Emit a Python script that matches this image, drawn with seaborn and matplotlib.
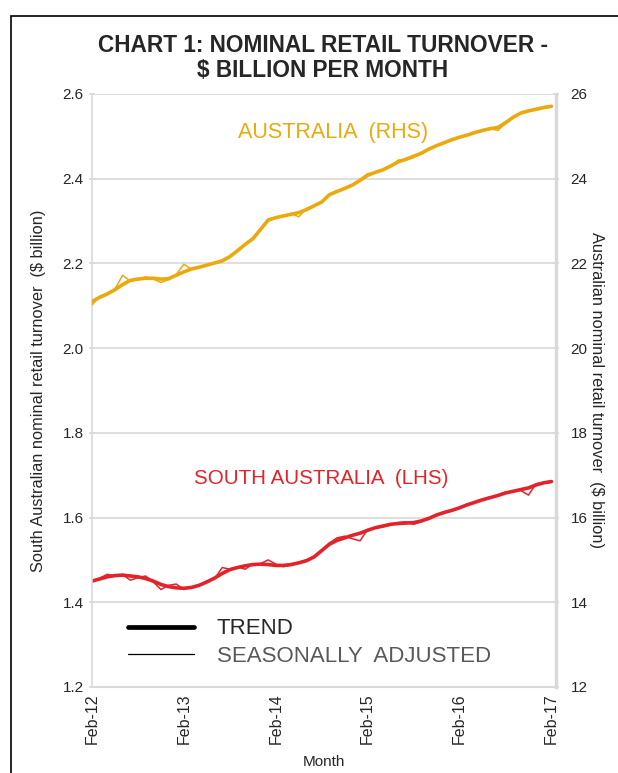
import matplotlib
matplotlib.use('Agg')
import matplotlib.pyplot as plt
import matplotlib.patches as mpatches
from matplotlib.lines import Line2D
import seaborn as sns
import pandas as pd

# Данные, индекс 0 = Feb-12, 60 = Feb-17
months = list(range(61))
tick_pos = [0, 12, 24, 36, 48, 60]
tick_labels = ['Feb-12', 'Feb-13', 'Feb-14', 'Feb-15', 'Feb-16', 'Feb-17']

aus_trend = [21.10, 21.20, 21.28, 21.38, 21.50, 21.60, 21.63, 21.65, 21.65, 21.63,
             21.64, 21.72, 21.80, 21.87, 21.91, 21.96, 22.01, 22.06, 22.16, 22.30,
             22.45, 22.58, 22.80, 23.02, 23.08, 23.12, 23.16, 23.20, 23.27, 23.36,
             23.45, 23.62, 23.70, 23.77, 23.85, 23.96, 24.08, 24.15, 24.21, 24.30,
             24.40, 24.46, 24.53, 24.60, 24.70, 24.78, 24.85, 24.92, 24.98, 25.03,
             25.09, 25.14, 25.18, 25.21, 25.32, 25.45, 25.55, 25.60, 25.64, 25.68,
             25.71]
aus_sa = [21.02, 21.22, 21.30, 21.40, 21.72, 21.58, 21.62, 21.68, 21.63, 21.55,
          21.62, 21.74, 21.98, 21.86, 21.92, 21.97, 22.00, 22.08, 22.17, 22.32,
          22.44, 22.60, 22.82, 23.05, 23.08, 23.13, 23.18, 23.10, 23.30, 23.36,
          23.46, 23.64, 23.68, 23.78, 23.83, 23.98, 24.12, 24.14, 24.22, 24.28,
          24.44, 24.44, 24.50, 24.62, 24.70, 24.79, 24.84, 24.93, 24.97, 25.04,
          25.08, 25.15, 25.18, 25.14, 25.30, 25.46, 25.55, 25.62, 25.64, 25.70,
          25.72]

sa_trend = [1.450, 1.455, 1.460, 1.463, 1.464, 1.462, 1.460, 1.456, 1.450, 1.442,
            1.437, 1.434, 1.433, 1.435, 1.440, 1.448, 1.457, 1.468, 1.477, 1.482,
            1.486, 1.489, 1.490, 1.489, 1.487, 1.487, 1.489, 1.493, 1.498, 1.507,
            1.522, 1.537, 1.546, 1.552, 1.558, 1.563, 1.570, 1.576, 1.580, 1.584,
            1.586, 1.587, 1.588, 1.592, 1.598, 1.606, 1.612, 1.617, 1.623, 1.630,
            1.636, 1.642, 1.647, 1.652, 1.658, 1.662, 1.666, 1.670, 1.677, 1.682,
            1.685]
sa_sa = [1.448, 1.457, 1.466, 1.462, 1.466, 1.452, 1.458, 1.462, 1.448, 1.430,
         1.440, 1.443, 1.430, 1.436, 1.441, 1.450, 1.455, 1.482, 1.478, 1.484,
         1.478, 1.490, 1.491, 1.500, 1.490, 1.484, 1.488, 1.494, 1.500, 1.508,
         1.520, 1.540, 1.552, 1.556, 1.550, 1.545, 1.572, 1.575, 1.578, 1.583,
         1.588, 1.590, 1.584, 1.590, 1.598, 1.605, 1.613, 1.616, 1.622, 1.632,
         1.635, 1.643, 1.646, 1.653, 1.660, 1.662, 1.664, 1.653, 1.680, 1.682,
         1.684]

df = pd.DataFrame({'month': months, 'aus_trend': aus_trend, 'aus_sa': aus_sa,
                   'sa_trend': sa_trend, 'sa_sa': sa_sa})

sns.set_style('white')
plt.rcParams['font.family'] = ['Liberation Sans', 'DejaVu Sans']

ORANGE = '#EBA90E'
RED = '#E2232A'
GRID = '#D9D9D9'
TXT = '#262626'

fig = plt.figure(figsize=(6.18, 7.73), dpi=100)
ax = fig.add_axes([0.1489, 0.1113, 0.7508, 0.7671])
ax2 = ax.twinx()

# Южная Австралия (левая ось)
sns.lineplot(data=df, x='month', y='sa_sa', ax=ax, color=RED, linewidth=1.1)
sns.lineplot(data=df, x='month', y='sa_trend', ax=ax, color=RED, linewidth=2.6)
# Австралия (правая ось)
sns.lineplot(data=df, x='month', y='aus_sa', ax=ax2, color=ORANGE, linewidth=1.1)
sns.lineplot(data=df, x='month', y='aus_trend', ax=ax2, color=ORANGE, linewidth=2.6)

ax.set_xlim(0, 60.6)
ax.set_ylim(1.2, 2.6)
ax2.set_ylim(12, 26)
ax.set_yticks([1.2, 1.4, 1.6, 1.8, 2.0, 2.2, 2.4, 2.6])
ax.set_yticklabels(['1.2', '1.4', '1.6', '1.8', '2.0', '2.2', '2.4', '2.6'])
ax2.set_yticks(range(12, 27, 2))
ax.set_xticks(tick_pos)
ax.set_xticklabels(tick_labels, rotation=90)

ax.grid(axis='y', color=GRID, linewidth=1.2)
ax.set_axisbelow(True)
for a in (ax, ax2):
    for s in a.spines.values():
        s.set_visible(False)
ax.spines['left'].set_visible(True)
ax.spines['left'].set_color(GRID)
ax.spines['left'].set_linewidth(1.2)
ax.spines['bottom'].set_visible(True)
ax.spines['bottom'].set_color(GRID)
ax.spines['bottom'].set_linewidth(1.5)
ax2.spines['right'].set_visible(True)
ax2.spines['right'].set_color(GRID)
ax2.spines['right'].set_linewidth(2.5)

ax.tick_params(axis='both', colors=GRID, labelcolor=TXT, labelsize=11,
               length=5, width=1.2, direction='inout')
ax2.tick_params(axis='y', colors=GRID, labelcolor=TXT, labelsize=11,
                length=5, width=1.2, direction='inout', pad=8)
ax.tick_params(axis='x', pad=2, labelsize=11.5)

ax.set_xlabel('Month', fontsize=11, color=TXT, labelpad=8)
ax.set_ylabel('South Australian nominal retail turnover  ($ billion)',
              fontsize=11.8, color=TXT, labelpad=12)
ax2.set_ylabel('Australian nominal retail turnover  ($ billion)',
               fontsize=11.8, color=TXT, rotation=270, labelpad=12)

ax2.text(31.5, 25.08, 'AUSTRALIA  (RHS)', color=ORANGE, fontsize=15.5,
         ha='center', va='center')
ax.text(29.9, 1.693, 'SOUTH AUSTRALIA  (LHS)', color=RED, fontsize=14.8,
        ha='center', va='center')

# Легенда вручную
handles = [Line2D([], [], color='black', linewidth=3.4),
           Line2D([], [], color='black', linewidth=0.9)]
leg = ax.legend(handles, ['TREND', 'SEASONALLY  ADJUSTED'], loc='lower left',
                bbox_to_anchor=(0.034, 0.0), frameon=False, fontsize=16,
                handlelength=3.0, handletextpad=1.0, labelspacing=0.3)
leg.get_texts()[1].set_color('#595959')

fig.text(0.522, 0.925, 'CHART 1: NOMINAL RETAIL TURNOVER -\n$ BILLION PER MONTH',
         ha='center', va='center', fontsize=16.3, fontweight='bold',
         family=['Liberation Sans Narrow', 'Liberation Sans', 'DejaVu Sans'],
         linespacing=1.1)

frame = mpatches.Rectangle((0.017, -0.1), 1.1, 1.079, transform=fig.transFigure,
                           fill=False, edgecolor='black', linewidth=1.2)
fig.patches.append(frame)

fig.savefig('out.png', dpi=100)
